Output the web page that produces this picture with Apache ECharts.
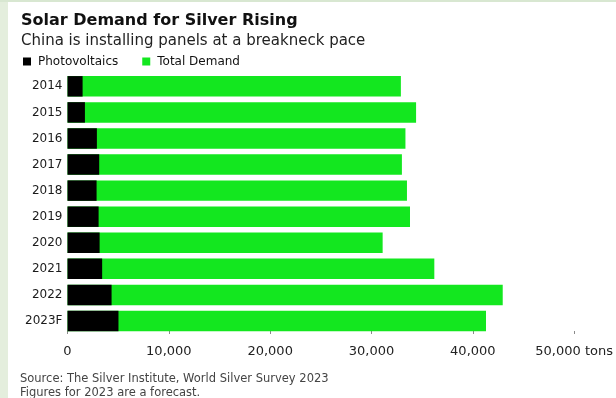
<!DOCTYPE html>
<html>
<head>
<meta charset="utf-8">
<script src="https://cdn.jsdelivr.net/npm/echarts@6/dist/echarts.min.js"></script>
<style>
  html, body { margin: 0; padding: 0; background: #ffffff; }
  #chart { width: 616px; height: 398px; }
</style>
</head>
<body>
<div id="chart"></div>
<script>
// Silver demand, tonnes per year
const years = ['2014', '2015', '2016', '2017', '2018', '2019', '2020', '2021', '2022', '2023F'];
const photovoltaics = [1490, 1720, 2900, 3130, 2870, 3070, 3170, 3420, 4350, 5030];
const totalDemand = [32900, 34400, 33350, 33000, 33500, 33800, 31100, 36200, 42950, 41300];
const axisUnit = 'tons';

const FONT = 'DejaVu Sans';

const chart = echarts.init(document.getElementById('chart'), null, { renderer: 'canvas' });

chart.setOption({
  animation: false,
  backgroundColor: '#ffffff',
  textStyle: { fontFamily: FONT },
  graphic: [
    { type: 'rect', left: 0, top: 0, z: -10, silent: true,
      shape: { width: 8, height: 398 }, style: { fill: '#e4eedd' } },
    { type: 'rect', left: 0, top: 0, z: -10, silent: true,
      shape: { width: 616, height: 2 }, style: { fill: '#d8e7d1' } }
  ],
  title: [
    {
      text: 'Solar Demand for Silver Rising',
      left: 21, top: 13, padding: 0,
      textStyle: { fontFamily: FONT, fontWeight: 'bold', fontSize: 16, color: '#111111' }
    },
    {
      text: 'China is installing panels at a breakneck pace',
      left: 21, top: 33.5, padding: 0,
      textStyle: { fontFamily: FONT, fontWeight: 'normal', fontSize: 15, color: '#222222' }
    },
    {
      text: 'Source: The Silver Institute, World Silver Survey 2023\nFigures for 2023 are a forecast.',
      left: 20, top: 372, padding: 0,
      textStyle: { fontFamily: FONT, fontWeight: 'normal', fontSize: 11.5, lineHeight: 14, color: '#444444' }
    }
  ],
  legend: {
    data: ['Photovoltaics', 'Total Demand'],
    left: 23, top: 55.5, padding: 0,
    icon: 'rect', itemWidth: 8, itemHeight: 8, itemGap: 24,
    textStyle: { fontFamily: FONT, fontSize: 12, color: '#111111', padding: [0, 0, 0, 2] }
  },
  grid: { left: 67.5, right: 40, top: 73.3, bottom: 64, containLabel: false },
  xAxis: {
    type: 'value',
    min: 0, max: 50000, interval: 10000,
    axisLine: { show: false },
    splitLine: { show: false },
    axisTick: { show: true, inside: true, length: 3, lineStyle: { color: '#8a8a8a', width: 1 } },
    axisLabel: {
      margin: 11.5,
      fontFamily: FONT, fontSize: 13, color: '#222222',
      formatter: v => v.toLocaleString('en-US') + (v === 50000 ? ' ' + axisUnit : '')
    }
  },
  yAxis: {
    type: 'category',
    data: years,
    inverse: true,
    axisLine: { show: false },
    axisTick: { show: false },
    axisLabel: { margin: 5, fontFamily: FONT, fontSize: 12, color: '#1a1a1a' }
  },
  series: [
    {
      name: 'Total Demand', type: 'bar', data: totalDemand,
      barCategoryGap: '21.5%', barGap: '-100%',
      itemStyle: { color: '#13e71f' }
    },
    {
      name: 'Photovoltaics', type: 'bar', data: photovoltaics,
      barCategoryGap: '21.5%', barGap: '-100%',
      itemStyle: { color: '#000000' }
    }
  ]
});
</script>
</body>
</html>
